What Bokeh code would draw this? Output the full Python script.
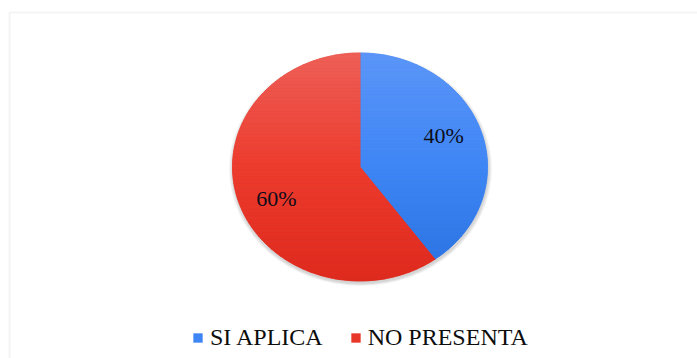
import numpy as np
from bokeh.plotting import figure
from bokeh.models import Range1d, Legend, LegendItem, BoxAnnotation
from bokeh.core.properties import value
from bokeh.embed import file_html
from bokeh.resources import INLINE

# ---- data ----
categories = ["SI APLICA", "NO PRESENTA"]
percent = [40, 60]
labels = ["40%", "60%"]
# gradient stops (top, middle, bottom) per slice
blue_stops = ["#5c96f8", "#3f86f5", "#2a71e0"]
red_stops = ["#ee6058", "#ec3c2e", "#de2a1e"]
mid_colors = ["#3f86f5", "#e8372a"]

SERIF = "Times"
W, H = 697, 358
CX, CY = 359.5, 166.5   # pie centre (screen px)
RX, RY = 127.5, 114.0    # pie radii (screen px)

p = figure(width=W, height=H, output_backend="svg", toolbar_location=None,
           x_range=Range1d(0, W), y_range=Range1d(H, 0), min_border=0)
p.axis.visible = False
p.grid.visible = False
p.outline_line_color = None

# initialise the text state before any filled shapes are drawn
p.text(x=[20], y=[40], text=[" "], text_font=value(SERIF), text_font_size="20px")

# chart-area border (extends off the right/bottom edges)
p.add_layout(BoxAnnotation(left=9, top=12, right=W + 20, bottom=H + 20,
                           fill_alpha=0, line_color="#d9d9d9", line_width=2))

# soft shadow
for k in range(1, 5):
    p.ellipse(x=[CX + 0.5], y=[CY + 2.0], width=[2 * RX + 2 * k], height=[2 * RY + 1.5 * k],
              fill_color="black", fill_alpha=0.045, line_color=None)


def slice_poly(a0, a1, n=200):
    t = np.linspace(a0, a1, n)
    xs = np.concatenate([[CX], CX + RX * np.sin(t), [CX]])
    ys = np.concatenate([[CY], CY - RY * np.cos(t), [CY]])
    return xs, ys


def clip(xs, ys, yv, keep_below):
    out_x, out_y = [], []
    n = len(xs)

    def inside(y):
        return y >= yv if keep_below else y <= yv
    for i in range(n):
        x1, y1 = xs[i], ys[i]
        x0, y0 = xs[i - 1], ys[i - 1]
        in1, in0 = inside(y1), inside(y0)
        if in1:
            if not in0:
                t = (yv - y0) / (y1 - y0)
                out_x.append(x0 + t * (x1 - x0)); out_y.append(yv)
            out_x.append(x1); out_y.append(y1)
        elif in0:
            t = (yv - y0) / (y1 - y0)
            out_x.append(x0 + t * (x1 - x0)); out_y.append(yv)
    return out_x, out_y


def hex2rgb(h):
    return np.array([int(h[i:i + 2], 16) for i in (1, 3, 5)], dtype=float)


def grad(stops, f):
    c = [hex2rgb(s) for s in stops]
    if f < 0.5:
        r = c[0] + (c[1] - c[0]) * (f / 0.5)
    else:
        r = c[1] + (c[2] - c[1]) * ((f - 0.5) / 0.5)
    return "#%02x%02x%02x" % tuple(int(round(v)) for v in r)


fracs = np.array(percent, dtype=float) / sum(percent)
ends = np.cumsum(fracs) * 2 * np.pi
starts = ends - fracs * 2 * np.pi
stops_list = [blue_stops, red_stops]

legend_items = []
NB = 70
band_edges = np.linspace(CY - RY - 1, CY + RY + 1, NB + 1)
for i, cat in enumerate(categories):
    xs, ys = slice_poly(starts[i], ends[i])
    base = p.patch(xs, ys, fill_color=mid_colors[i], line_color=mid_colors[i], line_width=0.5)
    legend_items.append(LegendItem(label=cat, renderers=[base]))
    bx, by, bc = [], [], []
    for b in range(NB):
        ya, yb = band_edges[b], band_edges[b + 1]
        cx_, cy_ = clip(list(xs), list(ys), ya, True)
        if len(cx_) < 3:
            continue
        cx_, cy_ = clip(cx_, cy_, yb, False)
        if len(cx_) < 3:
            continue
        f = ((ya + yb) / 2 - (CY - RY)) / (2 * RY)
        col = grad(stops_list[i], min(max(f, 0), 1))
        bx.append(cx_); by.append(cy_); bc.append(col)
    p.patches(xs=bx, ys=by, fill_color=bc, line_color=bc, line_width=0.6)

# data labels
mid = (starts + ends) / 2
lx = CX + 0.69 * RX * np.sin(mid)
ly = CY - 0.89 * RY * np.cos(mid)
p.text(x=lx, y=ly, text=labels, text_align="center", text_baseline="middle",
       text_font=value(SERIF), text_font_size="22px", text_color="#0d0d1a")

legend = Legend(items=legend_items, orientation="horizontal", location=(192, 7),
                label_text_font=SERIF, label_text_font_size="24px",
                label_text_color="#0d0d0d", glyph_width=11, glyph_height=11,
                label_standoff=7, spacing=27, padding=0, margin=0,
                border_line_alpha=0, background_fill_alpha=0)
p.add_layout(legend)

open("out.html", "w").write(file_html(p, INLINE))
